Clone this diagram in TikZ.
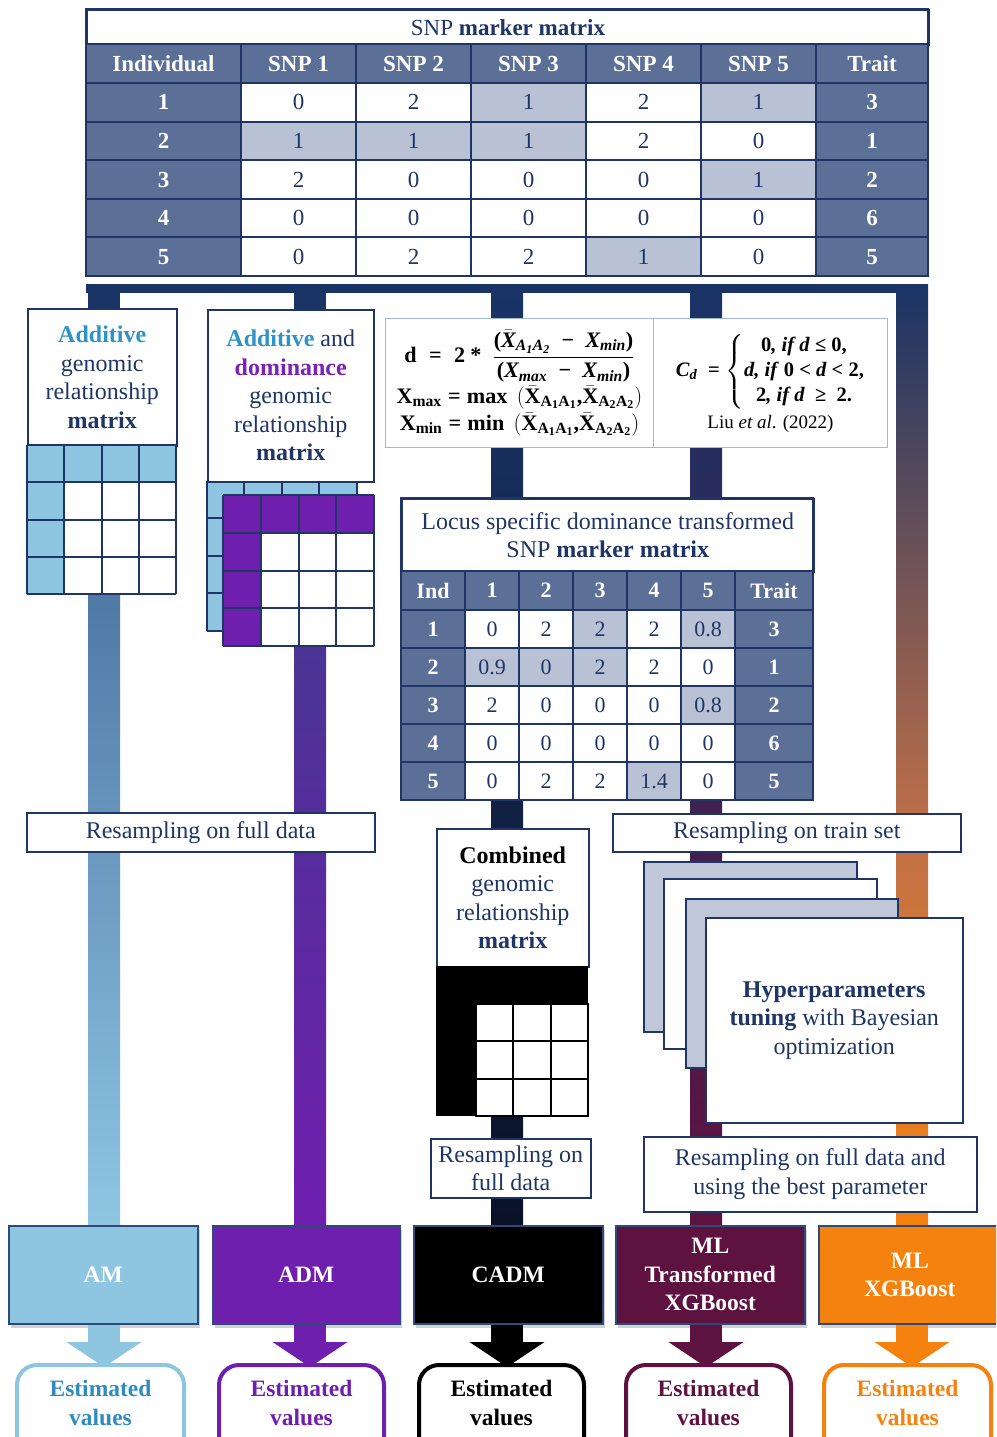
\documentclass[tikz,border=0pt]{standalone}
\usepackage{amsmath}
\usepackage{graphicx}
\usepackage{fontspec}
\setmainfont{Liberation Serif}
\usetikzlibrary{arrows.meta,shadows}
\DeclareMathSizes{20.5}{20.5}{14.5}{11}
\definecolor{navy}{HTML}{1F3566}
\definecolor{bus}{HTML}{1A3466}
\definecolor{hdr}{HTML}{5B6F97}
\definecolor{lgrey}{HTML}{B8C2D4}
\definecolor{cardgrey}{HTML}{BFC7D8}
\definecolor{lblue}{HTML}{8EC6E2}
\definecolor{addblue}{HTML}{2E93C7}
\definecolor{estblue}{HTML}{2E8BC0}
\definecolor{purp}{HTML}{6F1FAE}
\definecolor{domp}{HTML}{7B22B8}
\definecolor{maroon}{HTML}{5E1240}
\definecolor{orng}{HTML}{F5820F}
\definecolor{fbord}{HTML}{A3B6DC}
\definecolor{amtop}{HTML}{5079A6}
\definecolor{admtop}{HTML}{4A3594}
\definecolor{cadmbot}{HTML}{0A1228}
\definecolor{orngmid}{HTML}{C07048}
\definecolor{bbord}{HTML}{2E4A78}
\newcommand\bi[1]{\text{\bfseries\itshape #1}}
\newcommand\bu[1]{\text{\bfseries #1}}
\newcommand\rbox[7]{\node[#6, minimum width={#4-#2}, minimum height={#5-#3}, anchor=north west] (#1) at (#2,#3) {#7};}
\newcommand\mygrid[5]{%
  \fill[white] (#1,#2) rectangle ++({4*#3},{4*#3});
  \fill[#4] (#1,#2) rectangle ++({4*#3},#3);
  \fill[#4] (#1,#2) rectangle ++(#3,{4*#3});
  \foreach \k in {0,...,4}{%
    \draw[#5,line width=2pt] ({#1+\k*#3},#2) -- ++(0,{4*#3});
    \draw[#5,line width=2pt] (#1,{#2+\k*#3}) -- ++({4*#3},0);}
}
\begin{document}
\begin{tikzpicture}[x=1pt,y=-1pt,
  tb/.style={draw=navy,line width=1.5pt,fill=white,text=navy,align=center,inner sep=0pt,font=\fontsize{24}{28.5}\selectfont},
  fbox/.style={draw=fbord,line width=1pt,fill=white,text=black,align=center,inner sep=0pt,font=\fontsize{20.5}{27}\selectfont},
  hdrtxt/.style={text=white,inner sep=0pt,font=\fontsize{23}{27}\selectfont\bfseries},
  celltxt/.style={text=navy,inner sep=0pt,font=\fontsize{23}{27}\selectfont},
  lhdr/.style={text=white,inner sep=0pt,font=\fontsize{22}{26}\selectfont\bfseries},
  lcell/.style={text=navy,inner sep=0pt,font=\fontsize{22}{26}\selectfont},
  gline/.style={navy,line width=2pt},
  card/.style={draw=navy,line width=1.5pt},
  bbox/.style={draw=bbord,line width=1.5pt,text=white,align=center,inner sep=0pt,font=\fontsize{23.5}{28.5}\selectfont\bfseries,drop shadow={shadow xshift=2pt,shadow yshift=-4pt,opacity=0.35}},
  esttxt/.style={align=center,inner sep=0pt,font=\fontsize{23.5}{29}\selectfont\bfseries},
  estbox/.style={line width=4pt,rounded corners=20pt,fill=white},
  outarrow/.style={line width=32pt,-{Triangle[length=25pt,width=74pt]}}
]
\clip (0,0) rectangle (996,1437);
\fill[white] (0,0) rectangle (996,1437);

% ---------- bus and columns ----------
\fill[bus] (86,284) rectangle (928,293);
\fill[bus] (88,284) rectangle (120,312);
\fill[bus] (294,284) rectangle (326,312);
\shade[top color=bus, bottom color=cadmbot] (491,284) rectangle (523,1226);
\shade[top color=bus, bottom color=maroon] (690,284) rectangle (722,1226);
\shade[top color=bus, bottom color=orngmid] (896,284) rectangle (928,830.5);
\shade[top color=orngmid, bottom color=orng] (896,830) rectangle (928,1226);
\shade[top color=amtop, bottom color=lblue] (88,594) rectangle (120,1226);
\shade[top color=admtop, bottom color=purp] (294,644) rectangle (326,1226);

% ---------- top SNP table ----------
\node[tb, line width=2pt, minimum width=842, minimum height=35, anchor=north west, font=\fontsize{23}{27}\selectfont] (snptitle) at (86,9) {SNP \textbf{marker matrix}};
\fill[hdr] (86,44) rectangle (928,276);
\fill[white] (241,83) rectangle (816,276);
\foreach \i/\j in {1/3,1/5,2/1,2/2,2/3,3/5,5/4}
  \fill[lgrey] ({241+115*(\j-1)},{83+38.6*(\i-1)}) rectangle ++(115,38.6);
\foreach \xx in {241,356,471,586,701,816} \draw[gline] (\xx,44) -- (\xx,276);
\foreach \yy in {44,83,121.6,160.2,198.8,237.4} \draw[gline] (86,\yy) -- (928,\yy);
\draw[navy,line width=2.5pt] (86,9) rectangle (928,276);
\node[hdrtxt] (hInd) at (163.5,63.5) {Individual};
\foreach \j in {1,...,5} \node[hdrtxt] (hS\j) at ({241+115*(\j-0.5)},63.5) {SNP \j};
\node[hdrtxt] (hTr) at (872,63.5) {Trait};
\foreach \a/\b/\c/\d/\e/\t [count=\i] in {0/2/1/2/1/3, 1/1/1/2/0/1, 2/0/0/0/1/2, 0/0/0/0/0/6, 0/2/2/1/0/5}{
  \node[hdrtxt] (rI\i) at (163.5,{83+38.6*(\i-0.5)}) {\i};
  \foreach \v [count=\j] in {\a,\b,\c,\d,\e}
    \node[celltxt] (c\i-\j) at ({241+115*(\j-0.5)},{83+38.6*(\i-0.5)}) {\v};
  \node[hdrtxt] (rT\i) at (872,{83+38.6*(\i-0.5)}) {\t};
}

% ---------- Additive box ----------
\rbox{addbox}{27}{308}{176}{445}{tb}{\textbf{\color{addblue}Additive}\\genomic\\relationship\\\textbf{matrix}}
\mygrid{27}{445}{37.25}{lblue}{navy}

% ---------- ADM box ----------
\mygrid{207}{481}{37.4}{lblue}{navy}
\rbox{admbox}{207}{309}{373}{481}{tb}{\textbf{\color{addblue}Additive} and\\\textbf{\color{domp}dominance}\\genomic\\relationship\\\textbf{matrix}}
\mygrid{223}{495}{37.75}{purp}{navy}

% ---------- formula boxes ----------
\rbox{form1}{385}{318}{653}{447}{fbox}{\scalebox{1.08}{$\displaystyle \bu{d}\;\mathrel{\bu{=}}\;\bu{2}\mathbin{\bu{*}}\;\frac{\bu{(}\bar{\bi{X}}_{\bi{A}_{\bi{1}}\bi{A}_{\bi{2}}}\;\mathbin{\bu{−}}\;\bi{X}_{\bi{min}}\bu{)}}{\bu{(}\bi{X}_{\bi{max}}\;\mathbin{\bu{−}}\;\bi{X}_{\bi{min}}\bu{)}}$}\\[2pt]
\scalebox{1.08}{$\bu{X}_{\bu{max}}\mathrel{\bu{=}}\bu{max}\ \left(\bar{\bu{X}}_{\bu{A}_{\bu{1}}\bu{A}_{\bu{1}}}\bu{,}\bar{\bu{X}}_{\bu{A}_{\bu{2}}\bu{A}_{\bu{2}}}\right)$}\\[0pt]
\scalebox{1.08}{$\bu{X}_{\bu{min}}\mathrel{\bu{=}}\bu{min}\ \left(\bar{\bu{X}}_{\bu{A}_{\bu{1}}\bu{A}_{\bu{1}}}\bu{,}\bar{\bu{X}}_{\bu{A}_{\bu{2}}\bu{A}_{\bu{2}}}\right)$}}
\rbox{form2}{653}{318}{887}{447}{fbox}{$\bi{C}_{\bi{d}}\ \mathrel{\bu{=}}\left\{\fontsize{20.5}{25}\selectfont\begin{tabular}{@{}c@{}}\textbf{0\textit{, if d} ≤ 0,}\\ \textbf{\textit{d, if} 0 \textit{<} \textit{d} \textit{<} 2,}\\ \textbf{2\textit{, if d} \ ≥ \ 2.}\end{tabular}\right.$\\[5pt]
{\fontsize{19}{23}\selectfont Liu \textit{et al}. (2022)}}

% ---------- Locus table ----------
\rbox{loctitle}{401}{498}{813}{571}{tb}{Locus specific dominance transformed\\SNP \textbf{marker matrix}}
\fill[hdr] (401,571) rectangle (813,800);
\fill[white] (465,610) rectangle (735,800);
\foreach \i/\j in {1/3,1/5,2/1,2/2,2/3,3/5,5/4}
  \fill[lgrey] ({465+54*(\j-1)},{610+38*(\i-1)}) rectangle ++(54,38);
\foreach \xx in {465,519,573,627,681,735} \draw[gline] (\xx,571) -- (\xx,800);
\foreach \yy in {571,610,648,686,724,762} \draw[gline] (401,\yy) -- (813,\yy);
\draw[navy,line width=2.5pt] (401,498) rectangle (813,800);
\node[lhdr] (lInd) at (433,590.5) {Ind};
\foreach \j in {1,...,5} \node[lhdr] (lS\j) at ({465+54*(\j-0.5)},590.5) {\j};
\node[lhdr] (lTr) at (774,590.5) {Trait};
\foreach \a/\b/\c/\d/\e/\t [count=\i] in {0/2/2/2/0.8/3, 0.9/0/2/2/0/1, 2/0/0/0/0.8/2, 0/0/0/0/0/6, 0/2/2/1.4/0/5}{
  \node[lhdr] (lrI\i) at (433,{610+38*(\i-0.5)}) {\i};
  \foreach \v [count=\j] in {\a,\b,\c,\d,\e}
    \node[lcell] (lc\i-\j) at ({465+54*(\j-0.5)},{610+38*(\i-0.5)}) {\v};
  \node[lhdr] (lrT\i) at (774,{610+38*(\i-0.5)}) {\t};
}

% ---------- resampling boxes ----------
\rbox{resfull}{26}{812}{374}{851}{tb}{Resampling on full data}
\rbox{restrain}{612}{813}{960}{851}{tb}{Resampling on train set}
\rbox{comb}{436}{828}{588}{966}{tb}{\textbf{\color{black}Combined}\\genomic\\relationship\\\textbf{matrix}}
\fill[black] (436,966) rectangle (588,1116);
\foreach \r in {0,1,2}{\foreach \c in {0,1,2}{
  \draw[fill=white,draw=black,line width=2pt] ({476+37.3*\c},{1004+37.3*\r}) rectangle ++(37.3,37.3);}}
\rbox{resc}{430}{1138}{590}{1197}{tb}{Resampling on\\full data}

% ---------- hyperparameter cards ----------
\fill[cardgrey,card] (644,862) rectangle (857,1032);
\fill[white,card] (664,879) rectangle (877,1049);
\fill[cardgrey,card] (686,899) rectangle (898,1068);
\rbox{hyper}{705}{917}{962}{1122}{tb}{\textbf{Hyperparameters}\\\textbf{tuning} with Bayesian\\optimization}
\rbox{resbest}{643}{1136}{976}{1211}{tb}{Resampling on full data and\\using the best parameter}

% ---------- method boxes ----------
\rbox{bAM}{8}{1225}{197}{1323}{bbox,fill=lblue}{AM}
\rbox{bADM}{212}{1225}{399}{1323}{bbox,fill=purp}{ADM}
\rbox{bCADM}{413}{1225}{602}{1323}{bbox,fill=black}{CADM}
\rbox{bMLT}{615}{1225}{804}{1323}{bbox,fill=maroon}{ML\\Transformed\\XGBoost}
\rbox{bXGB}{818}{1225}{1000}{1323}{bbox,fill=orng}{ML\\XGBoost}

% ---------- estimated values ----------
\draw[estbox,draw=lblue] (17,1365) rectangle (184,1470);
\draw[estbox,draw=purp] (219,1365) rectangle (384,1470);
\draw[estbox,draw=black] (419,1365) rectangle (584,1470);
\draw[estbox,draw=maroon] (626,1365) rectangle (791,1470);
\draw[estbox,draw=orng] (824,1365) rectangle (991,1470);
\node[esttxt,text=estblue] (eAM) at (100.5,1403) {Estimated\\values};
\node[esttxt,text=purp] (eADM) at (301.5,1403) {Estimated\\values};
\node[esttxt,text=black] (eCADM) at (501.5,1403) {Estimated\\values};
\node[esttxt,text=maroon] (eMLT) at (708.5,1403) {Estimated\\values};
\node[esttxt,text=orng] (eXGB) at (907.5,1403) {Estimated\\values};

\coordinate (xAM) at (104,0);
\coordinate (xADM) at (310,0);
\coordinate (xCADM) at (507,0);
\coordinate (xMLT) at (706,0);
\coordinate (xXGB) at (912,0);
\coordinate (tip) at (0,1367);
\draw[outarrow,lblue] (bAM.south -| xAM) -- (tip -| xAM);
\draw[outarrow,purp] (bADM.south -| xADM) -- (tip -| xADM);
\draw[outarrow,black] (bCADM.south -| xCADM) -- (tip -| xCADM);
\draw[outarrow,maroon] (bMLT.south -| xMLT) -- (tip -| xMLT);
\draw[outarrow,orng] (bXGB.south -| xXGB) -- (tip -| xXGB);
\end{tikzpicture}
\end{document}
